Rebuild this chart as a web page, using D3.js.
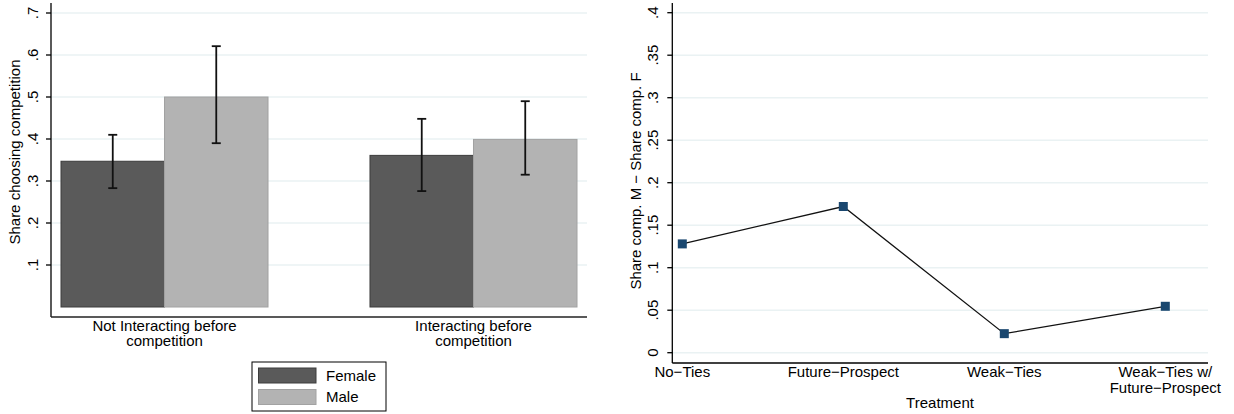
<!DOCTYPE html>
<html>
<head>
<meta charset="utf-8">
<script src="https://cdn.jsdelivr.net/npm/d3@7"></script>
<style>
  html, body { margin: 0; padding: 0; background: #fff; }
  svg { display: block; font-family: "Liberation Sans", Arial, Helvetica, sans-serif; }
</style>
</head>
<body>
<svg id="chart" width="1234" height="414"></svg>
<script>
// ---- Left panel: share choosing competition by gender ----
const groups = ["Not Interacting before\ncompetition", "Interacting before\ncompetition"];
const sexes = ["Female", "Male"];
const femaleShare = [0.347, 0.361];
const maleShare = [0.500, 0.399];
const femaleLo = [0.283, 0.276];
const femaleHi = [0.410, 0.448];
const maleLo = [0.390, 0.315];
const maleHi = [0.621, 0.490];
const leftTicks = [0.1, 0.2, 0.3, 0.4, 0.5, 0.6, 0.7];

// ---- Right panel: gender gap by treatment ----
const treatments = ["No\u2212Ties", "Future\u2212Prospect", "Weak\u2212Ties", "Weak\u2212Ties w/\nFuture\u2212Prospect"];
const gap = [0.128, 0.172, 0.0224, 0.0546];
const rightTicks = [0, 0.05, 0.1, 0.15, 0.2, 0.25, 0.3, 0.35, 0.4];

const svg = d3.select("#chart");
svg.append("rect").attr("width", 1234).attr("height", 414).attr("fill", "#fff");

const FONT = 15;
const GRID = "#eaf2f3";
const fmt = v => v === 0 ? "0" : String(+v.toFixed(2)).replace(/^0/, "");

function multiline(sel, text, lh) {
  const lines = text.split("\n");
  lines.forEach((ln, i) => {
    sel.append("tspan").attr("x", 0).attr("dy", i === 0 ? "0.35em" : lh).text(ln);
  });
}

// ================= LEFT =================
{
  const x0 = 51, x1 = 587, yTop = 3, yAxisBottom = 317;
  const y = d3.scaleLinear().domain([0, 0.7]).range([307, 13]);
  const gx = d3.scaleBand().domain(groups).range([61, 577]).paddingInner(0.33);
  const sx = d3.scaleBand().domain(sexes).range([0, gx.bandwidth()]);

  const g = svg.append("g");

  // gridlines
  g.selectAll(".grid").data(leftTicks).join("line")
    .attr("x1", x0).attr("x2", x1)
    .attr("y1", d => y(d)).attr("y2", d => y(d))
    .attr("stroke", GRID).attr("stroke-width", 1.4);

  // bars
  const rows = groups.map((c, i) => [
    { c, s: "Female", v: femaleShare[i], lo: femaleLo[i], hi: femaleHi[i] },
    { c, s: "Male", v: maleShare[i], lo: maleLo[i], hi: maleHi[i] }
  ]).flat();
  const fill = { Female: "#5a5a5a", Male: "#b3b3b3" };
  const edge = { Female: "#3c3c3c", Male: "#a2a2a2" };

  g.selectAll(".bar").data(rows).join("rect")
    .attr("x", d => gx(d.c) + sx(d.s))
    .attr("width", sx.bandwidth())
    .attr("y", d => y(d.v))
    .attr("height", d => y(0) - y(d.v))
    .attr("fill", d => fill[d.s])
    .attr("stroke", d => edge[d.s]).attr("stroke-width", 1);

  // error bars
  const eb = g.selectAll(".eb").data(rows).join("g")
    .attr("transform", d => `translate(${gx(d.c) + sx(d.s) + sx.bandwidth() / 2},0)`);
  eb.append("line").attr("y1", d => y(d.lo)).attr("y2", d => y(d.hi))
    .attr("stroke", "#111").attr("stroke-width", 1.8);
  eb.append("line").attr("x1", -4.5).attr("x2", 4.5).attr("y1", d => y(d.lo)).attr("y2", d => y(d.lo))
    .attr("stroke", "#111").attr("stroke-width", 1.8);
  eb.append("line").attr("x1", -4.5).attr("x2", 4.5).attr("y1", d => y(d.hi)).attr("y2", d => y(d.hi))
    .attr("stroke", "#111").attr("stroke-width", 1.8);

  // axes
  g.append("line").attr("x1", x0).attr("x2", x0).attr("y1", yTop).attr("y2", yAxisBottom)
    .attr("stroke", "#000").attr("stroke-width", 1.3);
  g.append("line").attr("x1", x0).attr("x2", x1).attr("y1", yAxisBottom).attr("y2", yAxisBottom)
    .attr("stroke", "#222").attr("stroke-width", 1.3);

  // y ticks (rotated labels)
  const yt = g.selectAll(".yt").data(leftTicks).join("g")
    .attr("transform", d => `translate(0,${y(d)})`);
  yt.append("line").attr("x1", x0 - 5).attr("x2", x0).attr("stroke", "#000").attr("stroke-width", 1.3);
  yt.append("text").attr("transform", "translate(33,0) rotate(-90)")
    .attr("text-anchor", "middle").attr("dy", "0.35em")
    .attr("font-size", FONT).attr("fill", "#000").text(d => fmt(d));

  // y title
  g.append("text").attr("transform", "translate(15,152) rotate(-90)")
    .attr("text-anchor", "middle").attr("dy", "0.35em")
    .attr("font-size", FONT).attr("fill", "#000").text("Share choosing competition");

  // category labels
  g.selectAll(".cl").data(groups).join("text")
    .attr("transform", d => `translate(${gx(d) + gx.bandwidth() / 2},326)`)
    .attr("text-anchor", "middle").attr("font-size", FONT).attr("fill", "#000")
    .each(function (d) { multiline(d3.select(this), d, 15); });

  // legend
  const lg = g.append("g");
  lg.append("rect").attr("x", 252).attr("y", 362).attr("width", 134).attr("height", 49)
    .attr("fill", "#fff").attr("stroke", "#000").attr("stroke-width", 1);
  sexes.forEach((s, i) => {
    lg.append("rect").attr("x", 258.5).attr("y", 368 + i * 21.5).attr("width", 57.5).attr("height", 15)
      .attr("fill", fill[s]).attr("stroke", edge[s]).attr("stroke-width", 1);
    lg.append("text").attr("x", 326).attr("y", 375.5 + i * 21.5).attr("dy", "0.35em")
      .attr("font-size", FONT).attr("fill", "#000").text(s);
  });
}

// ================= RIGHT =================
{
  const x0 = 672.3, x1 = 1208, yTop = 3, yAxisBottom = 363;
  const y = d3.scaleLinear().domain([0, 0.4]).range([352.7, 12.7]);
  const x = d3.scalePoint().domain(treatments).range([682.3, 1165.3]);

  const g = svg.append("g");

  g.selectAll(".grid").data(rightTicks).join("line")
    .attr("x1", x0).attr("x2", x1)
    .attr("y1", d => y(d)).attr("y2", d => y(d))
    .attr("stroke", GRID).attr("stroke-width", 1.4);

  const pts = treatments.map((t, i) => ({ t, v: gap[i] }));

  g.append("path").datum(pts)
    .attr("d", d3.line().x(d => x(d.t)).y(d => y(d.v)))
    .attr("fill", "none").attr("stroke", "#111").attr("stroke-width", 1.3);

  g.selectAll(".pt").data(pts).join("rect")
    .attr("x", d => x(d.t) - 4.5).attr("y", d => y(d.v) - 4.5)
    .attr("width", 9).attr("height", 9).attr("fill", "#1a476f");

  g.append("line").attr("x1", x0).attr("x2", x0).attr("y1", yTop).attr("y2", yAxisBottom)
    .attr("stroke", "#000").attr("stroke-width", 1.3);
  g.append("line").attr("x1", x0).attr("x2", x1).attr("y1", yAxisBottom).attr("y2", yAxisBottom)
    .attr("stroke", "#000").attr("stroke-width", 1.3);

  const yt = g.selectAll(".yt").data(rightTicks).join("g")
    .attr("transform", d => `translate(0,${y(d)})`);
  yt.append("line").attr("x1", x0 - 5).attr("x2", x0).attr("stroke", "#000").attr("stroke-width", 1.3);
  yt.append("text").attr("transform", "translate(653,0) rotate(-90)")
    .attr("text-anchor", "middle").attr("dy", "0.35em")
    .attr("font-size", FONT).attr("fill", "#000").text(d => fmt(d));

  g.append("text").attr("transform", "translate(636,181) rotate(-90)")
    .attr("text-anchor", "middle").attr("dy", "0.35em")
    .attr("font-size", FONT).attr("fill", "#000").text("Share comp. M \u2212 Share comp. F");

  g.selectAll(".xl").data(treatments).join("text")
    .attr("transform", d => `translate(${x(d)},372)`)
    .attr("text-anchor", "middle").attr("font-size", FONT).attr("fill", "#000")
    .each(function (d) { multiline(d3.select(this), d, 15.5); });

  g.append("text").attr("x", 940).attr("y", 403).attr("dy", "0.35em")
    .attr("text-anchor", "middle").attr("font-size", FONT).attr("fill", "#000").text("Treatment");
}
</script>
</body>
</html>
